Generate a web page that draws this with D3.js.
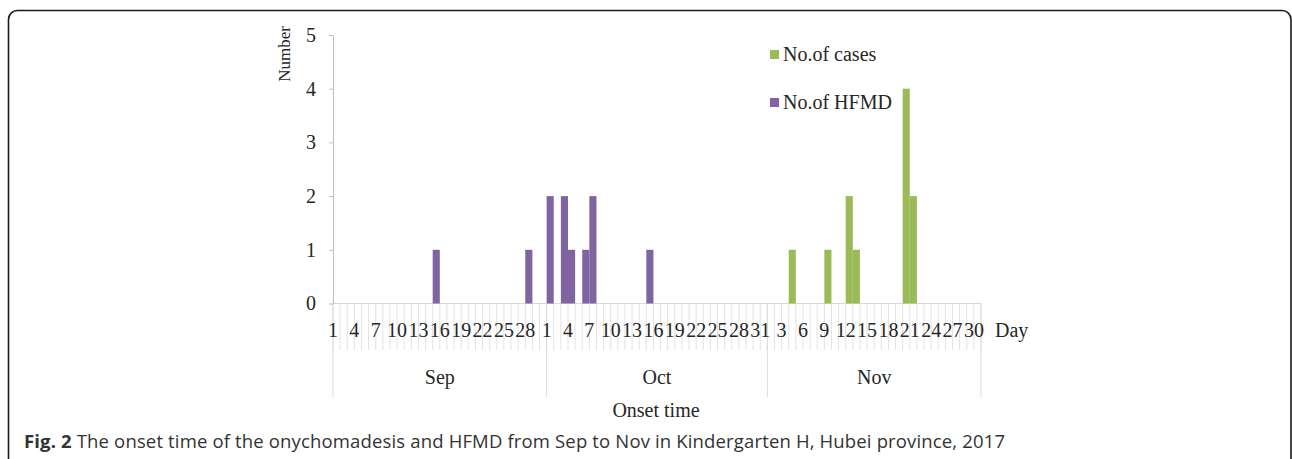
<!DOCTYPE html>
<html>
<head>
<meta charset="utf-8">
<script src="https://cdn.jsdelivr.net/npm/d3@7"></script>
<style>
body { margin: 0; background: #fff; }
svg text { font-family: "Liberation Serif", "Times New Roman", serif; fill: #262626; }
.caption text { font-family: "Open Sans", sans-serif; fill: #333; }
</style>
</head>
<body>
<svg id="chart" width="1292" height="459"></svg>
<script>
var months = ['Sep', 'Oct', 'Nov'];
var monthDays = [30, 31, 30];
var hfmdDays = ['Sep-15', 'Sep-28', 'Oct-1', 'Oct-3', 'Oct-4', 'Oct-6', 'Oct-7', 'Oct-15'];
var hfmdCounts = [1, 1, 2, 2, 1, 1, 2, 1];
var caseDays = ['Nov-4', 'Nov-9', 'Nov-12', 'Nov-13', 'Nov-20', 'Nov-21'];
var caseCounts = [1, 1, 2, 1, 4, 2];
var yTicks = [0, 1, 2, 3, 4, 5];
var labelStep = 3;
var seriesNames = ['No.of cases', 'No.of HFMD'];
var captionBold = 'Fig. 2';
var captionText = ' The onset time of the onychomadesis and HFMD from Sep to Nov in Kindergarten H, Hubei province, 2017';

var purple = '#8064a2', green = '#9bbb59';

var svg = d3.select('#chart');

// outer frame
svg.append('rect')
	.attr('x', 8.5).attr('y', 10.5)
	.attr('width', 1282.5).attr('height', 480)
	.attr('rx', 9)
	.attr('fill', 'none')
	.attr('stroke', '#1a1a1a')
	.attr('stroke-width', 1.6);

// build the day categories
var days = [], monthStart = [];
months.forEach(function (m, i) {
	monthStart.push(days.length);
	for (var d = 1; d <= monthDays[i]; d++) days.push(m + '-' + d);
});

var scaleX = d3.scaleBand().domain(days).range([333, 981]).padding(0);
var scaleY = d3.scaleLinear().domain([0, 5]).range([303.5, 35]);
var bw = scaleX.bandwidth();
var xEnd = scaleX.range()[1];

// category tick lines at each day boundary
var g = svg.append('g');
g.selectAll('.dtick')
	.data(days.concat(['end']))
	.enter().append('line')
	.attr('x1', function (d) { return d === 'end' ? xEnd : scaleX(d); })
	.attr('x2', function (d) { return d === 'end' ? xEnd : scaleX(d); })
	.attr('y1', scaleY(0)).attr('y2', 350)
	.attr('stroke', '#e3e3e3').attr('stroke-width', 1);

// month separators
g.selectAll('.msep')
	.data(monthStart.map(function (i) { return scaleX(days[i]); }).concat([xEnd]))
	.enter().append('line')
	.attr('x1', function (d) { return d; }).attr('x2', function (d) { return d; })
	.attr('y1', scaleY(0)).attr('y2', 397)
	.attr('stroke', '#dcdcdc').attr('stroke-width', 1);

// x axis baseline
g.append('line')
	.attr('x1', 333).attr('x2', xEnd)
	.attr('y1', scaleY(0)).attr('y2', scaleY(0))
	.attr('stroke', '#d9d9d9');

// bars
function drawBars(cats, vals, color) {
	g.selectAll(null)
		.data(cats.map(function (c, i) { return { c: c, v: vals[i] }; }))
		.enter().append('rect')
		.attr('x', function (d) { return scaleX(d.c); })
		.attr('width', bw)
		.attr('y', function (d) { return scaleY(d.v); })
		.attr('height', function (d) { return scaleY(0) - scaleY(d.v); })
		.attr('fill', color);
}
drawBars(hfmdDays, hfmdCounts, purple);
drawBars(caseDays, caseCounts, green);

// day labels, every third category
g.selectAll('.dlbl')
	.data(days.filter(function (d, i) { return i % labelStep === 0; }))
	.enter().append('text')
	.attr('x', function (d) { return scaleX(d); })
	.attr('y', 337)
	.attr('text-anchor', 'middle')
	.style('font-size', '20px')
	.text(function (d) { return d.split('-')[1]; });

g.append('text')
	.attr('x', 995).attr('y', 337)
	.style('font-size', '20px')
	.text('Day');

// month labels
g.selectAll('.mlbl')
	.data(months)
	.enter().append('text')
	.attr('x', function (m, i) {
		var a = scaleX(days[monthStart[i]]);
		var b = i + 1 < months.length ? scaleX(days[monthStart[i + 1]]) : xEnd;
		return (a + b) / 2;
	})
	.attr('y', 384)
	.attr('text-anchor', 'middle')
	.style('font-size', '20px')
	.text(function (m) { return m; });

g.append('text')
	.attr('x', 656).attr('y', 417)
	.attr('text-anchor', 'middle')
	.style('font-size', '20px')
	.text('Onset time');

// y axis
var yAxis = g.append('g')
	.attr('transform', 'translate(333,0)')
	.call(d3.axisLeft(scaleY).tickValues(yTicks).tickFormat(d3.format('d'))
		.tickSize(4).tickSizeOuter(0).tickPadding(13));
yAxis.select('.domain').attr('stroke', '#bfbfbf');
yAxis.selectAll('.tick line').attr('stroke', '#bfbfbf');
yAxis.selectAll('.tick text')
	.attr('fill', '#262626')
	.style('font-size', '20px')
	.style('font-family', '"Liberation Serif", serif');

g.append('text')
	.attr('transform', 'translate(290,54) rotate(-90)')
	.attr('text-anchor', 'middle')
	.style('font-size', '17px')
	.text('Number');

// legend
var legend = g.append('g');
[green, purple].forEach(function (c, i) {
	var ly = 50 + i * 48;
	legend.append('rect')
		.attr('x', 770).attr('y', ly)
		.attr('width', 9).attr('height', 9)
		.attr('fill', c);
	legend.append('text')
		.attr('x', 783).attr('y', ly + 10.5)
		.style('font-size', '20px')
		.text(seriesNames[i]);
});

// caption
var cap = svg.append('g').attr('class', 'caption');
var ct = cap.append('text')
	.attr('x', 24).attr('y', 448)
	.attr('textLength', 981)
	.attr('lengthAdjust', 'spacing')
	.style('font-size', '18.5px');
ct.append('tspan').style('font-weight', 'bold').text(captionBold);
ct.append('tspan').text(captionText);
</script>
</body>
</html>
